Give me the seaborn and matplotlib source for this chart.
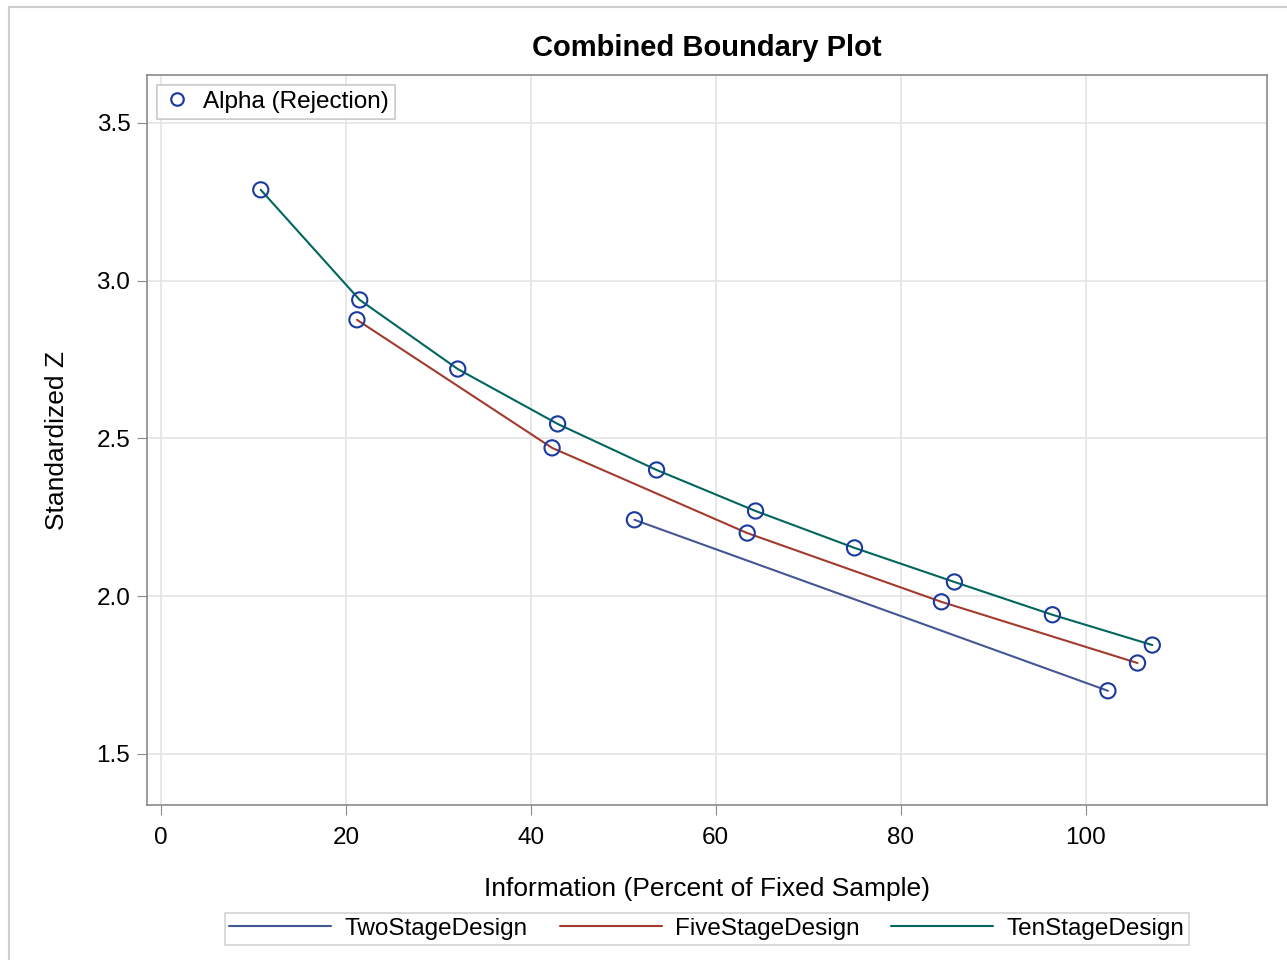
import matplotlib.pyplot as plt
import pandas as pd
import seaborn as sns
from matplotlib.lines import Line2D

# boundary values
two_info = [51.2, 102.4]
two_z = [2.242, 1.700]
five_info = [21.2, 42.3, 63.4, 84.4, 105.6]
five_z = [2.876, 2.470, 2.200, 1.982, 1.788]
ten_info = [10.8, 21.5, 32.1, 42.9, 53.6, 64.3, 75.0, 85.8, 96.4, 107.2]
ten_z = [3.288, 2.939, 2.720, 2.546, 2.400, 2.270, 2.153, 2.045, 1.941, 1.845]

designs = ["TwoStageDesign", "FiveStageDesign", "TenStageDesign"]
colors = {"TwoStageDesign": "#445694", "FiveStageDesign": "#A23A2E",
          "TenStageDesign": "#01665E"}

df = pd.concat([
    pd.DataFrame({"info": two_info, "z": two_z, "design": designs[0]}),
    pd.DataFrame({"info": five_info, "z": five_z, "design": designs[1]}),
    pd.DataFrame({"info": ten_info, "z": ten_z, "design": designs[2]}),
])

sns.set_style("white")
plt.rcParams["font.family"] = ["Liberation Sans", "DejaVu Sans"]
plt.rcParams["text.color"] = "black"
plt.rcParams["axes.labelcolor"] = "black"

fig = plt.figure(figsize=(12.87, 9.6), dpi=100)
ax = fig.add_axes([147 / 1287, 1 - 805 / 960, 1120 / 1287, 730 / 960])

ax.grid(True, color="#E4E4E4", linewidth=1.2, zorder=0)
ax.set_axisbelow(True)

sns.lineplot(data=df, x="info", y="z", hue="design", palette=colors,
             hue_order=designs, linewidth=1.5, ax=ax, legend=False,
             sort=False, estimator=None)
sns.scatterplot(data=df, x="info", y="z", ax=ax, s=120, marker="o",
                facecolor="none", edgecolor="#1A3A9E", linewidth=1.5,
                legend=False, zorder=5)

ax.set_xlim(-1.5, 119.6)
ax.set_ylim(1.338, 3.652)
ax.set_xticks([0, 20, 40, 60, 80, 100])
ax.set_yticks([1.5, 2.0, 2.5, 3.0, 3.5])
ax.set_yticklabels(["1.5", "2.0", "2.5", "3.0", "3.5"])
ax.tick_params(labelsize=17.5, length=7, color="#8A8A8A", direction="out",
               left=True, bottom=True, labelcolor="black")
ax.tick_params(axis="x", pad=9)
ax.tick_params(axis="y", pad=5)
for s in ax.spines.values():
    s.set_color("#8A8A8A")
    s.set_linewidth(1.2)

ax.set_xlabel("Information (Percent of Fixed Sample)", fontsize=19, labelpad=20)
ax.set_ylabel("Standardized Z", fontsize=19, labelpad=20)
ax.set_title("Combined Boundary Plot", fontsize=21, fontweight="bold", pad=14)

# inner legend for markers
mk = [Line2D([], [], marker="o", linestyle="none", markerfacecolor="none",
             markeredgecolor="#1A3A9E", markeredgewidth=1.5, markersize=9)]
leg1 = ax.legend(mk, ["Alpha (Rejection)"], loc="upper left", fontsize=17.5,
                 frameon=True, fancybox=False, edgecolor="#C8C8C8",
                 borderaxespad=0.4, handletextpad=0.45, borderpad=0.25,
                 handlelength=1.2)
leg1.get_frame().set_linewidth(1.2)
ax.add_artist(leg1)

# bottom legend for lines
hl = [Line2D([], [], color=colors[d], linewidth=1.5) for d in designs]
leg2 = fig.legend(hl, designs, loc="center", bbox_to_anchor=(707 / 1287, 1 - 929 / 960),
                  ncol=3, fontsize=17.5, frameon=True, fancybox=False,
                  edgecolor="#C8C8C8", handlelength=4.2, columnspacing=1.3,
                  handletextpad=0.55, borderpad=0.2)
leg2.get_frame().set_linewidth(1.2)

# outer frame (top and left edges visible)
fig.add_artist(Line2D([9 / 1287, 1], [1 - 7 / 960] * 2, transform=fig.transFigure,
                      color="#CFCFCF", linewidth=1.5))
fig.add_artist(Line2D([9 / 1287] * 2, [0, 1 - 7 / 960], transform=fig.transFigure,
                      color="#CFCFCF", linewidth=1.5))

fig.savefig("out.png", dpi=100)
